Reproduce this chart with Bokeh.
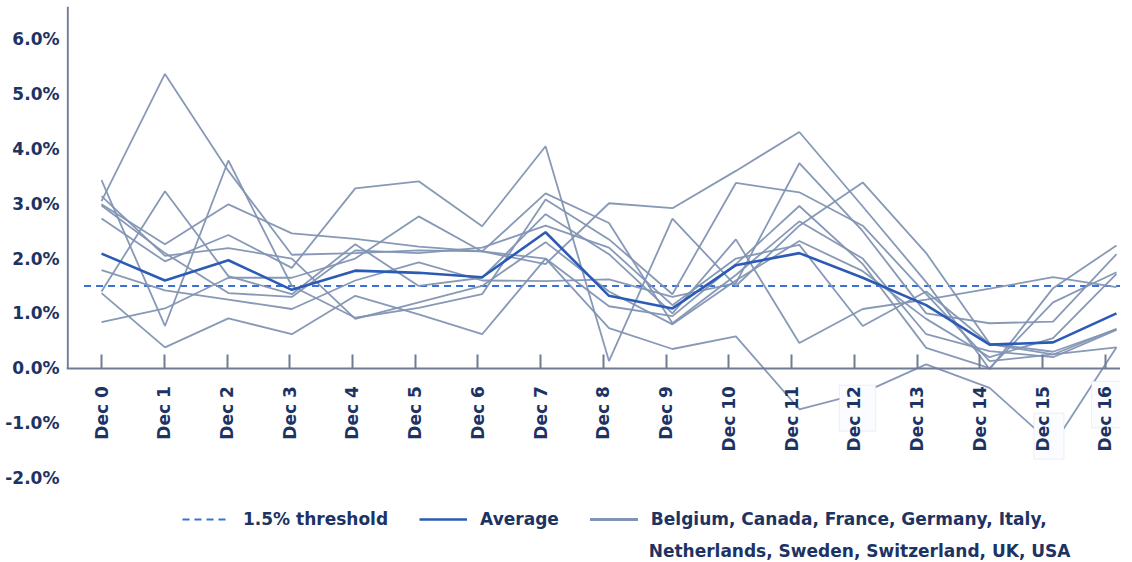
import math
from bokeh.plotting import figure
from bokeh.models import (FixedTicker, PrintfTickFormatter, Legend, LegendItem,
                          BoxAnnotation, Range1d, Label)
from bokeh.embed import file_html
from bokeh.resources import INLINE

# ---------------- data ----------------
tick_labels = [f"Dec {i}" for i in range(17)]
ticks = list(range(17))
threshold = 1.5
average = [2.09, 1.60, 1.97, 1.43, 1.78, 1.74, 1.66, 2.48, 1.32, 1.09, 1.88, 2.10, 1.65, 1.15, 0.43, 0.47, 1.00]

belgium     = [2.73, 1.95, 2.43, 1.83, 3.28, 3.41, 2.59, 4.05, 0.13, 2.73, 1.50, 2.60, 3.39, 2.10, 0.45, 0.30, 0.71]
canada      = [3.05, 5.37, 3.60, 2.07, 2.10, 2.15, 2.13, 3.19, 2.65, 0.82, 1.70, 2.68, 2.00, 0.62, 0.31, 0.20, 0.70]
france      = [3.43, 0.77, 3.79, 1.50, 0.92, 1.10, 1.35, 3.08, 2.35, 1.35, 3.38, 3.21, 2.60, 1.35, 0.13, 0.25, 0.38]
germany     = [1.40, 3.23, 1.68, 1.35, 2.26, 1.50, 1.65, 2.81, 2.08, 1.00, 2.35, 0.46, 1.08, 1.25, 1.45, 1.66, 1.48]
italy       = [1.37, 0.38, 0.91, 0.62, 1.32, 0.98, 0.62, 2.00, 1.13, 0.95, 1.90, 2.96, 1.90, 0.37, 0.00, 1.20, 1.75]
netherlands = [0.84, 1.09, 1.65, 1.65, 2.00, 2.77, 2.13, 2.00, 0.73, 0.35, 0.58, -0.75, -0.45, 0.07, -0.36, -1.40, 0.38]
sweden      = [1.79, 1.42, 1.25, 1.08, 1.60, 1.93, 1.60, 1.59, 1.62, 1.30, 1.55, 3.74, 2.50, 1.00, 0.82, 0.85, 2.08]
switzerland = [2.99, 2.26, 2.99, 2.46, 2.36, 2.22, 2.13, 1.90, 3.01, 2.92, 3.60, 4.31, 2.95, 1.57, -0.02, 1.46, 2.24]
uk          = [3.14, 2.05, 2.19, 2.00, 0.90, 1.20, 1.50, 2.30, 1.40, 0.80, 1.60, 2.32, 1.77, 0.90, 0.20, 0.55, 1.72]
usa         = [2.97, 2.10, 1.37, 1.30, 2.15, 2.10, 2.20, 2.60, 2.20, 1.15, 2.00, 2.25, 0.77, 1.40, 0.44, 0.25, 0.72]

countries = [belgium, canada, france, germany, italy, netherlands, sweden, switzerland, uk, usa]
country_label_1 = "Belgium, Canada, France, Germany, Italy,"
country_label_2 = "Netherlands, Sweden, Switzerland, UK, USA"

# ---------------- style ----------------
DATA_STEP = 1.011           # data points are spaced slightly wider than the ticks
NAVY = "#1c3363"
AXIS = "#6f7c93"
COUNTRY = "#8193b3"
AVG = "#2c5bb5"
THR = "#3b70d6"
FONT = "DejaVu Sans"
xs = [i * DATA_STEP for i in ticks]

X0, X1 = -0.558, 16.24
Y0, Y1 = -3.546, 6.6

p = figure(width=1120, height=562, output_backend="svg", toolbar_location=None,
           x_range=Range1d(X0, X1), y_range=Range1d(Y0, Y1),
           min_border_left=66, min_border_right=0, min_border_top=6, min_border_bottom=0)
p.outline_line_color = None
p.grid.visible = False
p.background_fill_color = "white"
p.border_fill_color = "white"

# threshold
thr = p.line([X0 + 0.28, X1], [threshold, threshold], line_color=THR, line_width=2,
             line_dash="7 5")

# country lines
country_renderers = []
for s in countries:
    r = p.line(xs, s, line_color=COUNTRY, line_width=1.8, line_alpha=0.95)
    country_renderers.append(r)

# average
avg = p.line(xs, average, line_color=AVG, line_width=2.6)

# y axis line (only from 0 upward)
p.line([X0 + 0.02, X0 + 0.02], [0, Y1], line_color=AXIS, line_width=2)

# label boxes
for t, l, r_, top, bot in [(12, -0.24, 0.34, -0.31, -1.15),
                           (15, -0.14, 0.34, -0.82, -1.66),
                           (16, -0.22, 0.38, -0.24, -1.09)]:
    b = BoxAnnotation(left=t + l, right=t + r_, top=top, bottom=bot,
                      fill_color="#fbfcff", fill_alpha=1.0,
                      line_color="#c9cdd4", line_width=1, level="glyph")
    p.add_layout(b)

# x axis at y=0
xa = p.xaxis[0]
xa.fixed_location = 0
xa.ticker = FixedTicker(ticks=ticks)
xa.major_label_overrides = {t: lab for t, lab in zip(ticks, tick_labels)}
xa.major_label_orientation = math.pi / 2
xa.axis_line_color = AXIS
xa.axis_line_width = 2
xa.major_tick_line_color = AXIS
xa.major_tick_line_width = 2
xa.major_tick_in = 14
xa.major_tick_out = 0
xa.minor_tick_line_color = None
xa.major_label_standoff = 18
xa.major_label_text_font = FONT
xa.major_label_text_font_style = "bold"
xa.major_label_text_font_size = "17px"
xa.major_label_text_color = NAVY

ya = p.yaxis[0]
ya.ticker = FixedTicker(ticks=[-2, -1, 0, 1, 2, 3, 4, 5, 6])
ya.formatter = PrintfTickFormatter(format="%.1f%%")
ya.axis_line_color = None
ya.major_tick_line_color = None
ya.minor_tick_line_color = None
ya.major_tick_out = 0
ya.major_tick_in = 0
ya.major_label_standoff = 7
ya.major_label_text_font = FONT
ya.major_label_text_font_style = "bold"
ya.major_label_text_font_size = "17px"
ya.major_label_text_color = NAVY

legend = Legend(items=[
    LegendItem(label="1.5% threshold", renderers=[thr]),
    LegendItem(label="Average", renderers=[avg]),
    LegendItem(label=country_label_1, renderers=country_renderers),
], orientation="horizontal", location=(116, 33))
legend.border_line_color = None
legend.background_fill_alpha = 0
legend.padding = 0
legend.margin = 0
legend.spacing = 31
legend.glyph_width = 48
legend.label_standoff = 13
legend.label_text_font = FONT
legend.label_text_font_style = "bold"
legend.label_text_font_size = "17px"
legend.label_text_color = NAVY
p.add_layout(legend)

# second line of the country legend label
p.add_layout(Label(x=8.72, y=-3.34, text=country_label_2, text_font=FONT,
                   text_font_style="bold", text_font_size="17px", text_color=NAVY,
                   text_baseline="middle", text_align="left"))

open("out.html", "w").write(file_html(p, INLINE))
